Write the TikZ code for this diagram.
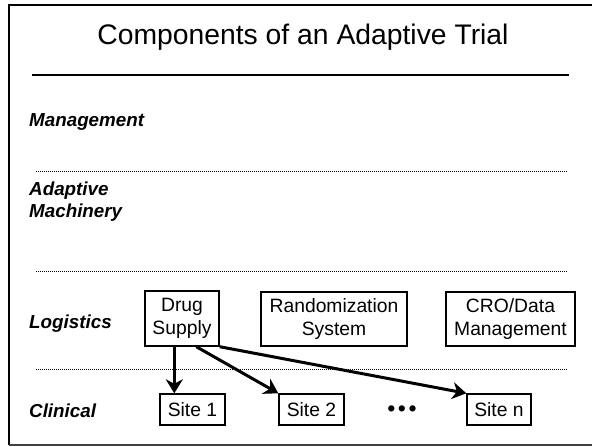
\documentclass[tikz,border=0pt]{standalone}
\usepackage{fontspec}
\setmainfont{Liberation Sans}
\usetikzlibrary{arrows.meta}
\tikzset{
  lbl/.style={anchor=base west, font=\fontsize{18.8}{22}\selectfont\bfseries\itshape, align=left, inner sep=0pt},
  box/.style={draw, line width=1.4pt, inner sep=0pt, align=center,
    font=\fontsize{19.3}{23}\selectfont},
  sep/.style={line width=1pt, dash pattern=on 1pt off 1pt},
  arr/.style={line width=3pt, -{Stealth[length=14pt,width=17pt,inset=4.5pt]}},
}
\begin{document}
\begin{tikzpicture}[x=1pt,y=-1pt]
\useasboundingbox (0,0) rectangle (592,447);
% frame
\draw[line width=2.5pt] (600,5) -- (9,5) -- (9,445);
\draw[black!75, line width=1.5pt] (9,445) -- (600,445);
% title and rule
\node[anchor=base, inner sep=0pt, font=\fontsize{28.3}{34}\selectfont] (title) at (303,45) {Components of an Adaptive Trial};
\coordinate (r1) at (32,75);
\coordinate (r2) at (569,75);
\draw[line width=1.2pt] (r1) -- (r2);
% layer separators
\coordinate (d1a) at (36,171); \coordinate (d1b) at (567,171);
\coordinate (d2a) at (36,271); \coordinate (d2b) at (567,271);
\coordinate (d3a) at (36,369); \coordinate (d3b) at (567,369);
\draw[sep] (d1a) -- (d1b);
\draw[sep] (d2a) -- (d2b);
\draw[sep] (d3a) -- (d3b);
% layer labels
\node[lbl] (mgmt) at (29,126) {Management};
\node[lbl] (adapt) at (29,217) {Adaptive\\Machinery};
\node[lbl] (logi) at (29,328) {Logistics};
\node[lbl] (clin) at (29,417) {Clinical};
% logistics boxes
\node[box, minimum width=74pt, minimum height=55pt] (ds) at (182,318.5) {Drug\\Supply};
\node[box, minimum width=146pt, minimum height=54pt] (rs) at (334,319) {Randomization\\System};
\node[box, minimum width=129pt, minimum height=54pt] (cro) at (510.5,319) {CRO/Data\\Management};
% sites
\node[box, minimum width=65pt, minimum height=31pt] (s1) at (192.5,409.5) {Site 1};
\node[box, minimum width=65pt, minimum height=31pt] (s2) at (311.5,409.5) {Site 2};
\node[inner sep=0pt, font=\fontsize{23}{26}\selectfont] (dots) at (402,411) {•\hspace{2.5pt}•\hspace{2.5pt}•};
\node[box, minimum width=64pt, minimum height=31pt] (sn) at (499,409.5) {Site n};
% supply flows
\draw[arr] ([xshift=30pt]ds.south west) -- ([xshift=15pt]s1.north west);
\draw[arr] ([xshift=52pt]ds.south west) -- (s2.north west);
\draw[arr] (ds.south east) -- (sn.north west);
\end{tikzpicture}
\end{document}
